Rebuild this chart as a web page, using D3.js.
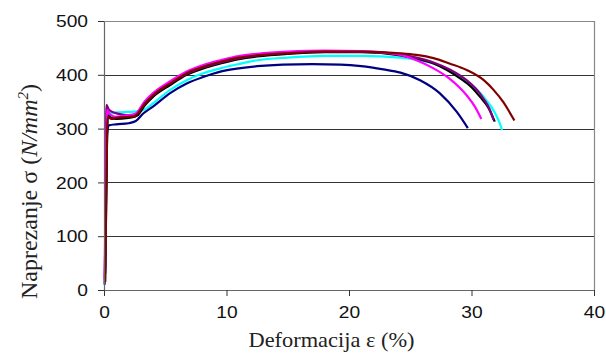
<!DOCTYPE html>
<html>
<head>
<meta charset="utf-8">
<script src="https://cdn.jsdelivr.net/npm/d3@7"></script>
<style>
  body { margin: 0; background: #fff; }
  svg { display: block; }
</style>
</head>
<body>
<svg id="chart" width="606" height="361"></svg>
<script>
// strain (%) vs stress (N/mm2)
const seriesNavy = [[0.05, 10], [0.15, 150], [0.25, 290], [0.4, 306], [1.0, 308], [2.0, 310], [2.6, 314], [3.2, 328], [4.0, 341], [5.4, 366], [6.75, 384], [8.1, 396], [9.5, 406], [11, 412], [12.5, 416], [14.6, 419], [17, 420], [19.3, 419], [21, 416], [22.8, 410], [24.2, 404], [25.8, 390], [27.4, 366], [28.8, 331], [29.7, 301]];
const seriesCyan = [[0.1, 20], [0.2, 200], [0.3, 330], [0.6, 328], [1.0, 330], [2.0, 331], [2.7, 332], [3.35, 336], [4.0, 347], [5.4, 372], [6.75, 390], [8.1, 403], [9.5, 412], [11, 420], [12.5, 427], [15, 432], [18, 435], [21, 435], [24.2, 432], [25.5, 428], [26.9, 421], [28.3, 406], [29.6, 387], [30.5, 371], [31.2, 353], [31.9, 330], [32.3, 310], [32.5, 297]];
const seriesBlack = [[0.1, 30], [0.2, 210], [0.3, 325], [0.6, 320], [1.0, 318], [2.0, 320], [2.5, 322], [2.7, 324], [3.35, 344], [4.0, 359], [5.4, 381], [6.75, 400], [8.1, 412], [9.5, 421], [11, 429], [12.5, 434], [15, 439], [18, 442], [21, 442], [24.2, 436], [25.5, 430], [26.9, 421], [28.0, 409], [29.1, 393], [30.0, 377], [30.7, 359], [31.4, 338], [31.9, 313]];
const seriesPurple = [[0.1, 40], [0.2, 344], [0.4, 335], [0.8, 330], [1.5, 326], [2.0, 325], [2.5, 326], [2.6, 327], [3.35, 347], [4.0, 362], [5.4, 384], [6.75, 402], [8.1, 414], [9.5, 423], [11, 431], [12.5, 436], [15, 441], [18, 443], [21, 443], [24.2, 438], [25.5, 432], [26.9, 423], [28.3, 409], [29.6, 390], [30.4, 373], [31.0, 355], [31.5, 335], [31.8, 316]];
const seriesMagenta = [[0.05, 20], [0.15, 200], [0.25, 335], [0.5, 326], [1.0, 322], [2.0, 325], [2.5, 327], [2.6, 328], [3.3, 350], [4.0, 366], [5.4, 388], [6.75, 406], [8.1, 418], [9.5, 427], [11, 435], [12.5, 439], [15, 443], [18, 445], [21, 444], [24.2, 437], [25.5, 427], [26.9, 412], [28.2, 393], [29.6, 362], [30.3, 340], [30.8, 318]];
const seriesDarkRed = [[0.1, 15], [0.2, 200], [0.3, 322], [0.6, 318], [1.0, 320], [2.0, 322], [2.5, 323], [2.67, 326], [3.35, 347], [4.0, 362], [5.4, 384], [6.75, 403], [8.1, 415], [9.5, 424], [11, 432], [12.5, 436], [15, 440], [18, 443], [21, 443], [24.2, 440], [25.5, 437], [26.9, 431], [28.2, 421], [29.6, 409], [31.0, 390], [31.8, 372], [32.6, 349], [33.5, 315]];

const seriesList = [seriesCyan, seriesNavy, seriesBlack, seriesPurple, seriesMagenta, seriesDarkRed];
const seriesColors = ['#00ffff', '#000080', '#000000', '#800080', '#ff00ff', '#800000'];

const xTicks = [0, 10, 20, 30, 40];
const yTicks = [0, 100, 200, 300, 400, 500];

const margin = { top: 21, right: 12, bottom: 71, left: 104 };
const width = 606 - margin.left - margin.right;
const height = 361 - margin.top - margin.bottom;
const stretch = 1.2; // tick digits in the picture are wider than normal

const svg = d3.select('#chart');
const g = svg.append('g').attr('transform', `translate(${margin.left},${margin.top})`);

const x = d3.scaleLinear().domain([0, 40]).range([0, width]);
const y = d3.scaleLinear().domain([0, 500]).range([height, 0]);

// gridlines
g.append('g')
  .selectAll('line')
  .data(yTicks.filter((d) => d > 0 && d < 500))
  .enter()
  .append('line')
  .attr('x1', 0)
  .attr('x2', width)
  .attr('y1', (d) => Math.round(y(d)) + 0.5)
  .attr('y2', (d) => Math.round(y(d)) + 0.5)
  .attr('stroke', '#333')
  .attr('stroke-width', 1);

// frame top and right
g.append('path')
  .attr('d', `M0,0.5H${width + 0.5}V${height}`)
  .attr('fill', 'none')
  .attr('stroke', '#888')
  .attr('stroke-width', 1.2);

// curves
const line = d3.line()
  .x((d) => x(d[0]))
  .y((d) => y(d[1]))
  .curve(d3.curveMonotoneX);

seriesList.forEach((s, i) => {
  g.append('path')
    .datum(s)
    .attr('fill', 'none')
    .attr('stroke', seriesColors[i])
    .attr('stroke-width', 2.2)
    .attr('stroke-linejoin', 'round')
    .attr('d', line);
});

// axes
const xaxis = g.append('g')
  .attr('transform', `translate(0,${height})`)
  .call(d3.axisBottom(x).tickValues(xTicks).tickSize(6).tickSizeOuter(0).tickFormat(d3.format('d')));
const yaxis = g.append('g')
  .call(d3.axisLeft(y).tickValues(yTicks).tickSize(6).tickSizeOuter(0).tickFormat(d3.format('d')));

[xaxis, yaxis].forEach((ax) => {
  ax.select('.domain').attr('stroke', '#666').attr('stroke-width', 1.2);
  ax.selectAll('line').attr('stroke', '#333');
  ax.selectAll('text')
    .attr('fill', '#111')
    .style('font-family', '"Liberation Sans", Arial, sans-serif')
    .style('font-size', '16px');
});

xaxis.selectAll('text')
  .attr('y', 0)
  .attr('dy', 0)
  .attr('transform', `translate(0,28) scale(${stretch},1)`);

yaxis.selectAll('text')
  .attr('x', 0)
  .attr('dy', '0.36em')
  .attr('transform', `translate(-16,0) scale(${stretch},1)`);

// axis titles
svg.append('text')
  .attr('transform', 'translate(331.5,347) scale(1.12,1)')
  .attr('text-anchor', 'middle')
  .attr('fill', '#222')
  .style('font-family', '"Liberation Serif", "Times New Roman", serif')
  .style('font-size', '20px')
  .text('Deformacija ε (%)');

const yTitle = svg.append('text')
  .attr('transform', 'translate(37,191.5) rotate(-90)')
  .attr('text-anchor', 'middle')
  .attr('fill', '#222')
  .style('font-family', '"Liberation Serif", "Times New Roman", serif')
  .style('font-size', '24px');
yTitle.append('tspan').text('Naprezanje σ (');
yTitle.append('tspan').style('font-style', 'italic').text('N/mm');
yTitle.append('tspan').style('font-style', 'italic').attr('dy', -9).style('font-size', '15px').text('2');
yTitle.append('tspan').attr('dy', 9).text(')');
</script>
</body>
</html>
